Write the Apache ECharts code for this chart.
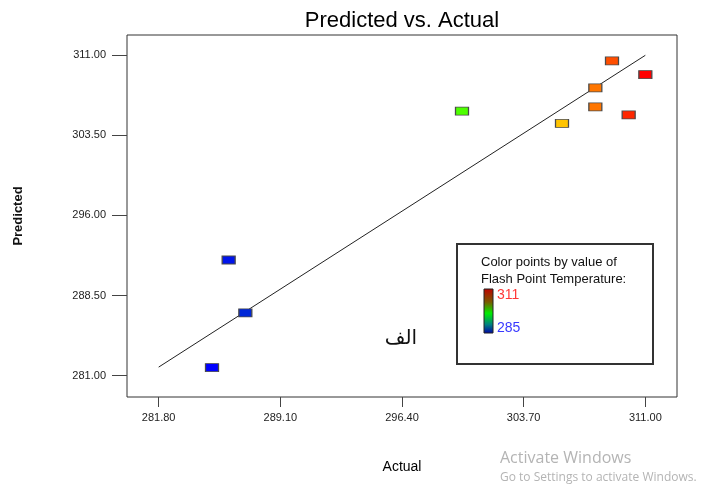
<!DOCTYPE html>
<html>
<head>
<meta charset="utf-8">
<script src="https://cdn.jsdelivr.net/npm/echarts@6/dist/echarts.min.js"></script>
<style>
  html, body { margin: 0; padding: 0; background: #ffffff; }
  #chart { width: 702px; height: 485px; }
</style>
</head>
<body>
<div id="chart"></div>
<script>
// Flash point temperature: actual run values and model predictions
const actual    = [285, 286, 287, 300, 306, 308, 308, 309, 310, 311];
const predicted = [281.75, 291.83, 286.87, 305.78, 304.62, 307.94, 306.16, 310.47, 305.41, 309.18];

// Tick labels on both axes
const xTicks = [281.80, 289.10, 296.40, 303.70, 311.00];
const yTicks = [281.00, 288.50, 296.00, 303.50, 311.00];

// Ends of the reference (predicted = actual) line
const refLine = [281.8, 311.0];

// Colour scale range for the points
const colorRange = [285, 311];

const points = actual.map((a, i) => [a, predicted[i]]);
const diagonal = refLine.map(v => [v, v]);

const chart = echarts.init(document.getElementById('chart'), null, { renderer: 'canvas' });

const font = 'Arial, "Liberation Sans", sans-serif';

chart.setOption({
  backgroundColor: '#ffffff',
  animation: false,
  grid: {
    left: 127, right: 25, top: 35, bottom: 88,
    outerBoundsMode: 'none',
    containLabel: false,
    show: true, borderColor: '#333', borderWidth: 1, backgroundColor: 'transparent'
  },
  xAxis: {
    type: 'value',
    min: 279.9, max: 312.9,
    name: 'Actual',
    nameLocation: 'middle',
    nameGap: 63,
    nameTextStyle: { fontFamily: font, fontSize: 14, color: '#000' },
    axisLine: { show: false },
    splitLine: { show: false },
    axisTick: { show: true, customValues: xTicks, length: 10, lineStyle: { color: '#444' } },
    axisLabel: {
      customValues: xTicks, margin: 15,
      formatter: v => v.toFixed(2),
      fontFamily: font, fontSize: 11, color: '#222'
    }
  },
  yAxis: {
    type: 'value',
    min: 279.0, max: 312.9,
    name: 'Predicted',
    nameLocation: 'middle',
    nameRotate: 90,
    nameGap: 102,
    nameTextStyle: { fontFamily: font, fontSize: 13, fontWeight: 'bold', color: '#111' },
    axisLine: { show: false },
    splitLine: { show: false },
    axisTick: { show: true, customValues: yTicks, length: 15, lineStyle: { color: '#444' } },
    axisLabel: {
      customValues: yTicks, margin: 21,
      formatter: v => v.toFixed(2),
      fontFamily: font, fontSize: 11, color: '#222'
    }
  },
  visualMap: {
    show: false,
    type: 'continuous',
    seriesIndex: 1,
    dimension: 0,
    min: colorRange[0], max: colorRange[1],
    inRange: { color: ['#0000ff', '#008080', '#00ff00', '#ffff00', '#ff0000'] }
  },
  series: [
    {
      type: 'line',
      data: diagonal,
      symbol: 'none',
      silent: true,
      z: 2,
      lineStyle: { color: '#222', width: 1 }
    },
    {
      type: 'scatter',
      data: points,
      symbol: 'rect',
      symbolSize: [13, 8],
      z: 3,
      itemStyle: { borderColor: '#4a4a4a', borderWidth: 1, opacity: 1 }
    }
  ],
  graphic: [
    // chart title
    {
      type: 'text', x: 402, y: 21, z: 11,
      style: { text: 'Predicted vs. Actual', font: '22px ' + font, fill: '#000', align: 'center', verticalAlign: 'middle' }
    },
    // colour key box
    {
      type: 'rect', shape: { x: 457, y: 244, width: 196, height: 120 },
      style: { fill: '#fff', stroke: '#333', lineWidth: 2 }, z: 10
    },
    {
      type: 'text', x: 481, y: 262, z: 11,
      style: { text: 'Color points by value of', font: '13px ' + font, fill: '#111', verticalAlign: 'middle' }
    },
    {
      type: 'text', x: 481, y: 279, z: 11,
      style: { text: 'Flash Point Temperature:', font: '13px ' + font, fill: '#111', verticalAlign: 'middle' }
    },
    {
      type: 'rect', shape: { x: 484, y: 289, width: 9, height: 44 }, z: 11,
      style: {
        stroke: '#222', lineWidth: 1,
        fill: new echarts.graphic.LinearGradient(0, 0, 0, 1, [
          { offset: 0, color: '#c00000' },
          { offset: 0.3, color: '#7a5a00' },
          { offset: 0.55, color: '#00ee00' },
          { offset: 0.8, color: '#008080' },
          { offset: 1, color: '#0000a8' }
        ])
      }
    },
    {
      type: 'text', x: 497, y: 295, z: 11,
      style: { text: String(colorRange[1]), font: '14px ' + font, fill: '#ff3838', verticalAlign: 'middle' }
    },
    {
      type: 'text', x: 497, y: 328, z: 11,
      style: { text: String(colorRange[0]), font: '14px ' + font, fill: '#3838ff', verticalAlign: 'middle' }
    },
    // annotation inside the plot
    {
      type: 'text', x: 401, y: 339, z: 11,
      style: { text: 'الف', font: '20px "DejaVu Sans", serif', fill: '#111', align: 'center', verticalAlign: 'middle' }
    },
    // desktop overlay text
    {
      type: 'text', x: 500, y: 458, z: 12,
      style: { text: 'Activate Windows', font: '16px "Open Sans", "Noto Sans", sans-serif', fill: '#b4b4b4', verticalAlign: 'middle' }
    },
    {
      type: 'text', x: 500, y: 478, z: 12,
      style: { text: 'Go to Settings to activate Windows.', font: '12px "Open Sans", "Noto Sans", sans-serif', fill: '#b4b4b4', verticalAlign: 'middle' }
    }
  ]
});
</script>
</body>
</html>
